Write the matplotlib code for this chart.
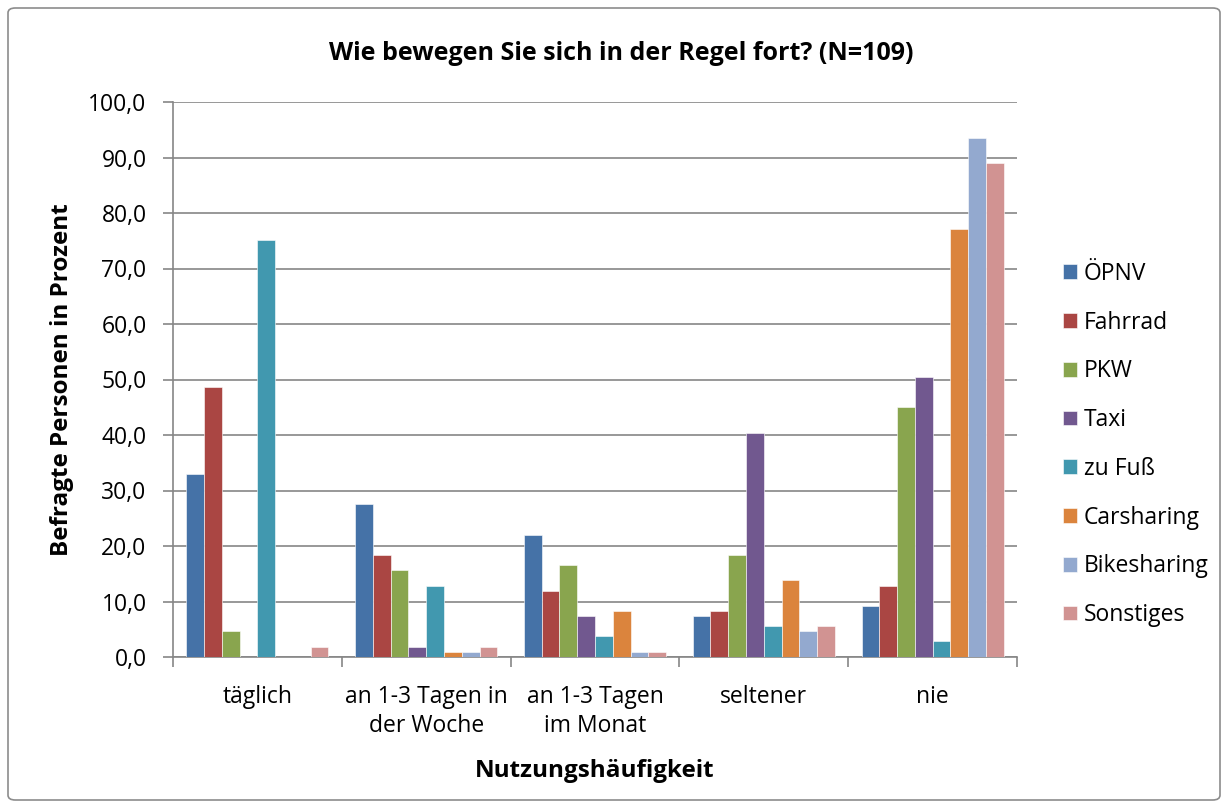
import matplotlib
matplotlib.use('Agg')
import matplotlib.pyplot as plt
import numpy as np
from matplotlib.patches import FancyBboxPatch

plt.rcParams['font.family'] = ['Open Sans', 'DejaVu Sans']

# categories and series (percent of N=109)
categories = ['täglich', 'an 1-3 Tagen in\nder Woche', 'an 1-3 Tagen\nim Monat', 'seltener', 'nie']
series = ['ÖPNV', 'Fahrrad', 'PKW', 'Taxi', 'zu Fuß', 'Carsharing', 'Bikesharing', 'Sonstiges']
oepnv = [33.0, 27.5, 22.0, 7.3, 9.2]
fahrrad = [48.6, 18.3, 11.9, 8.3, 12.8]
pkw = [4.6, 15.6, 16.5, 18.3, 45.0]
taxi = [0.0, 1.8, 7.3, 40.4, 50.5]
zu_fuss = [75.2, 12.8, 3.7, 5.5, 2.8]
carsharing = [0.0, 0.9, 8.3, 13.8, 77.1]
bikesharing = [0.0, 0.9, 0.9, 4.6, 93.6]
sonstiges = [1.8, 1.8, 0.9, 5.5, 89.0]
values = [oepnv, fahrrad, pkw, taxi, zu_fuss, carsharing, bikesharing, sonstiges]
colors = ['#4572A7', '#AA4643', '#89A54E', '#71588F', '#4198AF', '#DB843D', '#93A9CF', '#D19392']

fig = plt.figure(figsize=(12.28, 8.08), dpi=100)
ax = fig.add_axes([173/1228, 1-657/808, (1017-173)/1228, (657-102)/808])

# chart border
fig.patches.append(FancyBboxPatch((8/1228, 8/808), 1212/1228, 792/808,
                                  boxstyle='round,pad=0,rounding_size=0.006',
                                  transform=fig.transFigure, fill=False,
                                  edgecolor='#8c8c8c', linewidth=1.2))

x = np.arange(len(categories))
w = 1/9.5
for i, (name, vals) in enumerate(zip(series, values)):
    ax.bar(x - 4*w + (i+0.5)*w, vals, width=w, color=colors[i], label=name,
           edgecolor='white', linewidth=0.4, zorder=3)

ax.set_xlim(-0.5, 4.5)
ax.set_ylim(0, 100)
ax.set_yticks(np.arange(0, 101, 10))
ax.set_yticklabels([f'{v:.1f}'.replace('.', ',') for v in np.arange(0, 101, 10)], fontsize=16.5)
ax.set_xticks(x)
ax.set_xticklabels(categories, fontsize=16.5, linespacing=1.3)
ax.set_xticks(np.arange(-0.5, 5, 1), minor=True)
ax.tick_params(axis='x', which='major', length=0, pad=20)
ax.tick_params(axis='x', which='minor', length=7, color='#868686', width=1.2)
ax.tick_params(axis='y', length=7, color='#868686', width=1.2, pad=12)
ax.grid(axis='y', color='#868686', linewidth=1.2, zorder=0)
for s in ['top', 'right']:
    ax.spines[s].set_visible(False)
for s in ['left', 'bottom']:
    ax.spines[s].set_color('#868686')
    ax.spines[s].set_linewidth(1.2)

ax.set_ylabel('Befragte Personen in Prozent', fontsize=17.5, fontweight='bold', labelpad=10)
ax.set_xlabel('Nutzungshäufigkeit', fontsize=17.5, fontweight='bold', labelpad=15)
fig.text(621/1228, 1-53/808, 'Wie bewegen Sie sich in der Regel fort? (N=109)',
         fontsize=18, fontweight='bold', ha='center', va='center')

leg = ax.legend(loc='center left', bbox_to_anchor=(1.03, 0.383), frameon=False,
                fontsize=16.5, handlelength=0.6, handleheight=0.6, handletextpad=0.3,
                labelspacing=1.08)

fig.savefig('out.png', dpi=100)
